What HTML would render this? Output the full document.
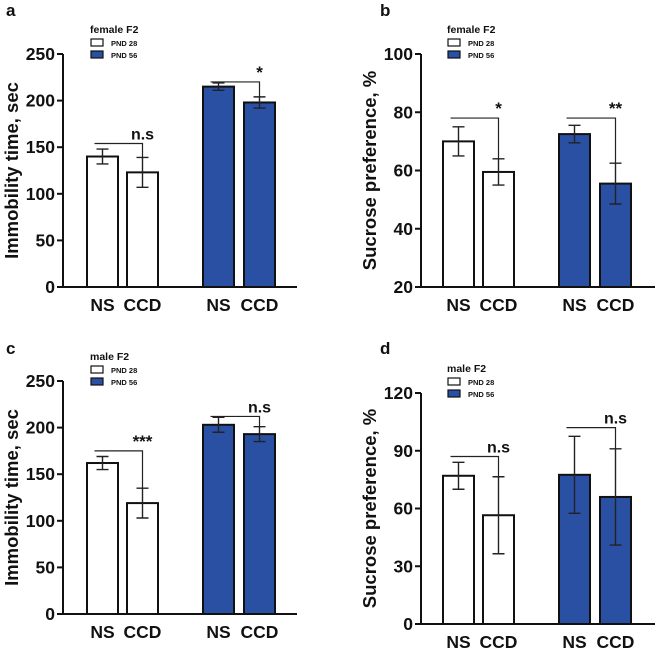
<!DOCTYPE html>
<html><head><meta charset="utf-8"><style>
body{margin:0;background:#fff}
svg{display:block}
text{font-family:"Liberation Sans",Arial,sans-serif;font-weight:bold;fill:#111}
</style></head><body>
<svg id="fig" width="660" height="652" viewBox="0 0 660 652" xmlns="http://www.w3.org/2000/svg"></svg>
<script>
const groupLabels = ["NS","CCD","NS","CCD"];
const aValues = [140,123,215,198];
const aErrors = [8,16,4,6];
const bValues = [70,59.5,72.5,55.5];
const bErrors = [5,4.5,3,7];
const cValues = [162,119,203,193];
const cErrors = [7,16,8,8];
const dValues = [77,56.5,77.5,66];
const dErrors = [7,20,20,25];
const aTicks = [0,50,100,150,200,250];
const bTicks = [20,40,60,80,100];
const cTicks = [0,50,100,150,200,250];
const dTicks = [0,30,60,90,120];
const aBrackets = [[154,138,"n.s"],[220,204,"*"]];
const bBrackets = [[78,64,"*"],[78,62.5,"**"]];
const cBrackets = [[175,135,"***"],[212,201,"n.s"]];
const dBrackets = [[87,76,"n.s"],[102,91,"n.s"]];

const NS="http://www.w3.org/2000/svg";
const svg=document.getElementById('fig');
function mk(tag,attrs,parent,txt){const e=document.createElementNS(NS,tag);for(const k in attrs)e.setAttribute(k,attrs[k]);if(txt!==undefined)e.textContent=txt;(parent||svg).appendChild(e);return e;}

function panel(o){
  const g=mk('g',{});
  
  
  const min=o.ticks[0],max=o.ticks[o.ticks.length-1];
  const y=v=>o.bottom-(v-min)/(max-min)*(o.bottom-o.top);
  const barOff=[o.off0,o.off0+40,o.off0+116,o.off0+157], bw=31;
  const cx=i=>o.ax+barOff[i]+bw/2;
  const L=mk('text',{x:o.lx,y:o.ly,'font-size':17},g,o.letter);
  
  const lg=mk('g',{},g);
  
  mk('text',{x:o.legx,y:o.legy,'font-size':10.5},lg,o.title);
  mk('rect',{x:o.legx+1,y:o.legy+6,width:12,height:7,fill:'#fff',stroke:'#111','stroke-width':1.2},lg);
  mk('text',{x:o.legx+21,y:o.legy+13,'font-size':7.5},lg,'PND 28');
  mk('rect',{x:o.legx+1,y:o.legy+18,width:12,height:7,fill:'#2a50a3',stroke:'#111','stroke-width':1.2},lg);
  mk('text',{x:o.legx+21,y:o.legy+25,'font-size':7.5},lg,'PND 56');
  const yt=mk('text',{transform:`translate(${o.ax-45},${(o.top+o.bottom)/2}) rotate(-90)`,'text-anchor':'middle','font-size':18.5},g,o.ylabel);
  
  mk('line',{x1:o.ax,y1:o.top,x2:o.ax,y2:o.bottom+1,stroke:'#111','stroke-width':2},g);
  mk('line',{x1:o.ax-1,y1:o.bottom,x2:o.ax+234,y2:o.bottom,stroke:'#111','stroke-width':2},g);
  o.ticks.forEach(t=>{
    mk('line',{x1:o.ax-6,y1:y(t),x2:o.ax,y2:y(t),stroke:'#111','stroke-width':2},g);
    const tt=mk('text',{x:o.ax-8,y:y(t)+6,'text-anchor':'end','font-size':17.5},g,t);
    
  });
  o.values.forEach((v,i)=>{
    const r=mk('rect',{x:o.ax+barOff[i],y:y(v),width:bw,height:o.bottom-y(v),fill:i<2?'#fff':'#2a50a3',stroke:'#111','stroke-width':2},g);
    
    
    const e=o.errors[i];
    mk('path',{d:`M${cx(i)},${y(v+e)}V${y(v-e)}M${cx(i)-6},${y(v+e)}h12M${cx(i)-6},${y(v-e)}h12`,stroke:'#222','stroke-width':1.4,fill:'none'},g);
    const xl=mk('text',{x:cx(i),y:o.bottom+24,'text-anchor':'middle','font-size':17.5},g,groupLabels[i]);
    
  });
  o.brackets.forEach((b,k)=>{
    const i0=k*2,i1=k*2+1;
    const x0=cx(i0)-8,x1=cx(i1);
    mk('path',{d:`M${x0},${y(b[0])}H${x1}V${y(b[1])}`,stroke:'#222','stroke-width':1.2,fill:'none'},g);
    const s=mk('text',{x:x1,y:y(b[0])-4,'text-anchor':'middle','font-size':b[2]=='n.s'?16:17},g,b[2]);
    
  });
}
panel({letter:'a',lx:6,ly:16,title:'female F2',legx:90,legy:33,ax:63,top:54,bottom:287,off0:24,ticks:aTicks,values:aValues,errors:aErrors,brackets:aBrackets,ylabel:'Immobility time, sec'});
panel({letter:'b',lx:380,ly:16,title:'female F2',legx:447,legy:33,ax:421,top:54,bottom:287,off0:22,ticks:bTicks,values:bValues,errors:bErrors,brackets:bBrackets,ylabel:'Sucrose preference, %'});
panel({letter:'c',lx:6,ly:354,title:'male F2',legx:90,legy:360,ax:63,top:381,bottom:614,off0:24,ticks:cTicks,values:cValues,errors:cErrors,brackets:cBrackets,ylabel:'Immobility time, sec'});
panel({letter:'d',lx:380,ly:354,title:'male F2',legx:447,legy:372,ax:421,top:393,bottom:624,off0:22,ticks:dTicks,values:dValues,errors:dErrors,brackets:dBrackets,ylabel:'Sucrose preference, %'});
</script>
</body></html>
